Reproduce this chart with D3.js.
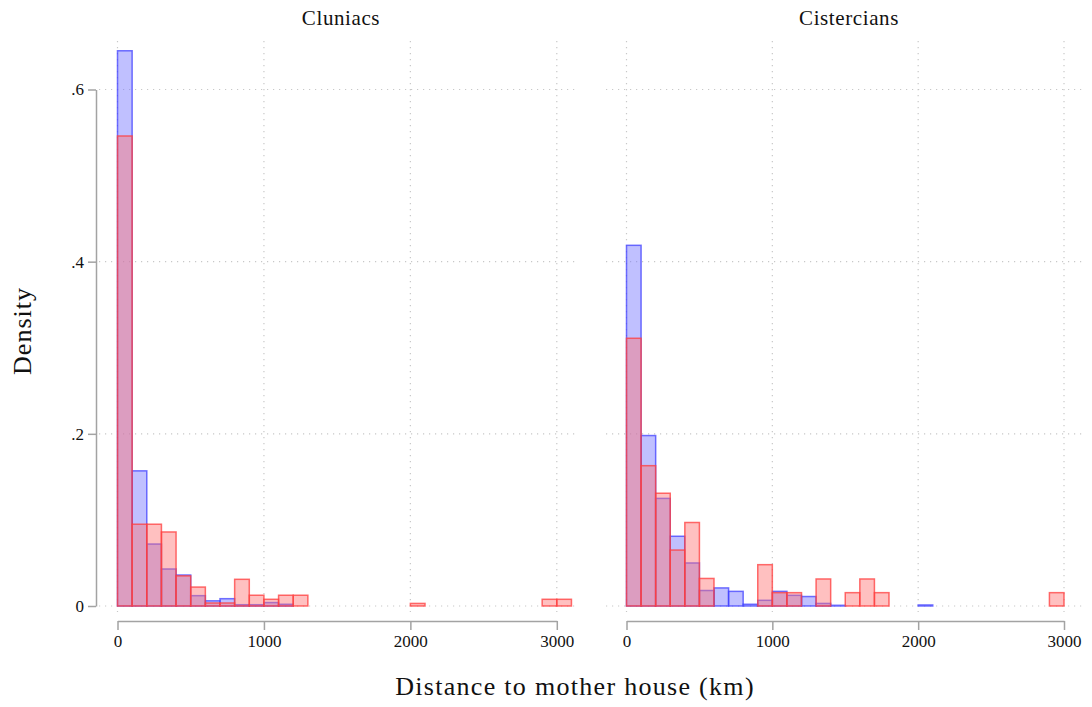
<!DOCTYPE html>
<html>
<head>
<meta charset="utf-8">
<script src="https://cdn.jsdelivr.net/npm/d3@7"></script>
<style>
  html, body { margin: 0; padding: 0; background: #fff; }
  svg { display: block; font-family: "Liberation Serif", "Times New Roman", serif; }
</style>
</head>
<body>
<svg id="chart" width="1092" height="707"></svg>
<script>
// Histogram densities, one value per 100 km bin starting at 0 km
const binWidth = 100;
const xTicks = [0, 1000, 2000, 3000];
const yTicks = [0, 0.2, 0.4, 0.6];
const panelTitles = ["Cluniacs", "Cistercians"];

// Cluniacs
const cluniacsBlue = [0.645, 0.157, 0.072, 0.043, 0.036, 0.012, 0.006, 0.0085, 0.0015, 0.0015,
                      0.004, 0.002, 0, 0, 0, 0, 0, 0, 0, 0,
                      0, 0, 0, 0, 0, 0, 0, 0, 0, 0, 0];
const cluniacsRed  = [0.546, 0.095, 0.095, 0.086, 0.035, 0.022, 0.0035, 0.0035, 0.031, 0.0125,
                      0.0078, 0.0125, 0.0125, 0, 0, 0, 0, 0, 0, 0,
                      0.003, 0, 0, 0, 0, 0, 0, 0, 0, 0.0078, 0.0078];

// Cistercians
const cisterciansBlue = [0.419, 0.198, 0.125, 0.081, 0.050, 0.018, 0.021, 0.017, 0.002, 0.0066,
                         0.017, 0.0124, 0.011, 0.003, 0.0008, 0, 0, 0, 0, 0,
                         0.0012, 0, 0, 0, 0, 0, 0, 0, 0, 0];
const cisterciansRed  = [0.311, 0.163, 0.131, 0.065, 0.097, 0.032, 0, 0, 0, 0.048,
                         0.0155, 0.0155, 0, 0.0314, 0, 0.0155, 0.0314, 0.0155, 0, 0,
                         0, 0, 0, 0, 0, 0, 0, 0, 0, 0.0155];

const panels = [
  { title: panelTitles[0], blue: cluniacsBlue, red: cluniacsRed,
    range: [117.5, 556.8], box: [99, 578], titleX: 341 },
  { title: panelTitles[1], blue: cisterciansBlue, red: cisterciansRed,
    range: [626.5, 1064], box: [606, 1086], titleX: 849 }
];

const svg = d3.select("#chart");
const y = d3.scaleLinear().domain([0, 0.6]).range([606, 89.5]);
const plotTop = 41, plotBottom = 612;
const axisGrey = "#a3a3a3";
const gridGrey = "#c8c8c8";

const series = [
  { key: "blue", fill: "rgba(115,115,255,0.45)", stroke: "rgba(60,60,255,0.72)" },
  { key: "red",  fill: "rgba(255,115,115,0.45)", stroke: "rgba(255,60,60,0.75)" }
];

panels.forEach(p => {
  const x = d3.scaleLinear().domain([0, 3000]).range(p.range);
  const g = svg.append("g");

  // dotted grid
  g.selectAll("line.hgrid").data(yTicks).join("line")
    .attr("x1", p.box[0]).attr("x2", p.box[1])
    .attr("y1", d => y(d)).attr("y2", d => y(d))
    .attr("stroke", gridGrey).attr("stroke-width", 1.2)
    .attr("stroke-dasharray", "1.2,4.8");
  g.selectAll("line.vgrid").data(xTicks).join("line")
    .attr("x1", d => x(d)).attr("x2", d => x(d))
    .attr("y1", plotTop).attr("y2", plotBottom)
    .attr("stroke", gridGrey).attr("stroke-width", 1.2)
    .attr("stroke-dasharray", "1.2,4.8");

  // overlaid histogram bars, red drawn over blue
  series.forEach(s => {
    const bins = p[s.key].map((v, i) => ({ x0: i * binWidth, x1: (i + 1) * binWidth, v }))
      .filter(d => d.v > 0);
    g.selectAll("rect." + s.key).data(bins).join("rect")
      .attr("class", s.key)
      .attr("x", d => x(d.x0))
      .attr("width", d => x(d.x1) - x(d.x0))
      .attr("y", d => y(d.v))
      .attr("height", d => y(0) - y(d.v))
      .attr("fill", s.fill)
      .attr("stroke", s.stroke)
      .attr("stroke-width", 1.5);
  });

  // x axis
  const xa = g.append("g").attr("transform", "translate(0,621)")
    .call(d3.axisBottom(x).tickValues(xTicks).tickFormat(d3.format("d"))
      .tickSize(9).tickSizeOuter(0).tickPadding(5));
  xa.select(".domain").attr("stroke", axisGrey).attr("stroke-width", 1.5);
  xa.selectAll(".tick line").attr("stroke", axisGrey).attr("stroke-width", 1.5);
  xa.selectAll(".tick text").attr("font-size", 17).attr("fill", "#111")
    .attr("font-family", "Liberation Serif");

  // panel title
  g.append("text").attr("x", p.titleX).attr("y", 25)
    .attr("text-anchor", "middle").attr("font-size", 21)
    .attr("letter-spacing", 0.6).attr("fill", "#111")
    .text(p.title);
});

// shared y axis on the left
const ya = svg.append("g").attr("transform", "translate(96,0)")
  .call(d3.axisLeft(y).tickValues(yTicks)
    .tickFormat(d => d === 0 ? "0" : d3.format(".1f")(d).replace(/^0/, ""))
    .tickSize(8).tickSizeOuter(0).tickPadding(4));
ya.select(".domain").attr("stroke", axisGrey).attr("stroke-width", 1.5);
ya.selectAll(".tick line").attr("stroke", axisGrey).attr("stroke-width", 1.5);
ya.selectAll(".tick text").attr("font-size", 17).attr("fill", "#111")
  .attr("font-family", "Liberation Serif");

// axis titles
svg.append("text").attr("x", 575).attr("y", 695)
  .attr("text-anchor", "middle").attr("font-size", 26)
  .attr("letter-spacing", 1.3).attr("fill", "#111")
  .text("Distance to mother house (km)");
svg.append("text")
  .attr("transform", "translate(31,331) rotate(-90)")
  .attr("text-anchor", "middle").attr("font-size", 26)
  .attr("letter-spacing", 1).attr("fill", "#111")
  .text("Density");
</script>
</body>
</html>
